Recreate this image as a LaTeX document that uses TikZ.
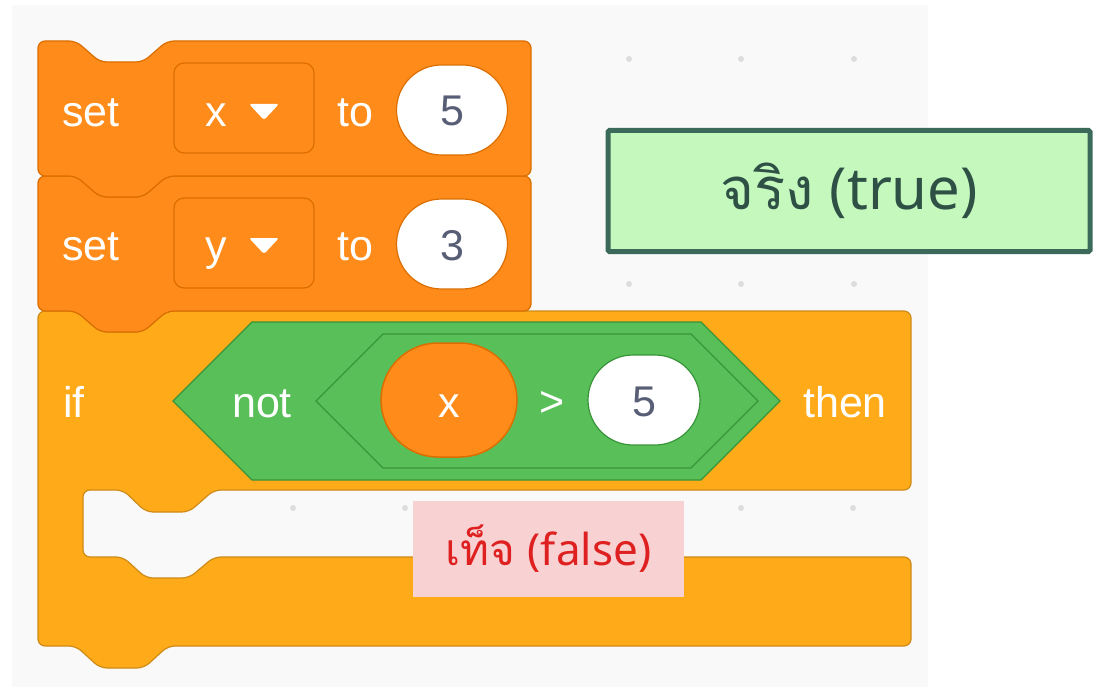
\documentclass[tikz,border=0pt]{standalone}
\usepackage{fontspec}
\setmainfont{Liberation Sans}
\newfontfamily\thaifont[Script=Thai]{Loma}
\newfontfamily\latfont{Noto Sans}
\usetikzlibrary{shapes.misc}
\definecolor{bggray}{HTML}{F9F9F9}
\definecolor{dotgray}{HTML}{DDDDDD}
\definecolor{varorange}{HTML}{FF8C1A}
\definecolor{varline}{HTML}{DB6E00}
\definecolor{ctrlyellow}{HTML}{FFAB19}
\definecolor{ctrlline}{HTML}{CF8B17}
\definecolor{opgreen}{HTML}{59C059}
\definecolor{opline}{HTML}{389438}
\definecolor{numgray}{HTML}{575E75}
\definecolor{truefill}{HTML}{C4F8BD}
\definecolor{trueline}{HTML}{3C6A5A}
\definecolor{truetext}{HTML}{2E5045}
\definecolor{falsefill}{HTML}{F8D2D2}
\definecolor{falsetext}{HTML}{DF2020}
\begin{document}
\begin{tikzpicture}[x=1pt,y=-1pt,
  varblock/.style={fill=varorange, draw=varline, line width=1.2pt, rounded corners=7pt},
  ctrlblock/.style={fill=ctrlyellow, draw=ctrlline, line width=1.2pt, rounded corners=7pt},
  boolhex/.style={fill=opgreen, draw=opline, line width=1.2pt},
  wtxt/.style={text=white, font=\fontsize{43}{50}\selectfont, anchor=base, inner sep=0pt},
  ntxt/.style={text=numgray, font=\fontsize{43}{50}\selectfont, anchor=base, inner sep=0pt},
  dropbox/.style={fill=varorange, draw=varline, line width=1.2pt, rounded corners=10pt, minimum width=140pt, minimum height=90pt, inner sep=0pt},
  numoval/.style={rounded rectangle, fill=white, draw=varline, line width=1.2pt, minimum width=111pt, minimum height=90pt, inner sep=0pt},
  gridpt/.style={fill=dotgray},
  truebox/.style={fill=truefill, draw=trueline, line width=5pt, rounded corners=1.5pt, minimum width=482pt, minimum height=121pt, text=truetext, font=\fontsize{58}{64}\selectfont},
  falsebox/.style={fill=falsefill, minimum width=271pt, minimum height=96pt, text=falsetext, font=\fontsize{44}{50}\selectfont, inner sep=0pt}
]
\useasboundingbox (0,0) rectangle (1094,687);
\fill[white] (0,0) rectangle (1094,687);
\fill[bggray] (12,5) rectangle (928,687);
% grid dots
\foreach \px/\py in {629/59,741/59,854/59,629/284,741/284,854/284,293/508,405/508,741/508,853/508}
  \fill[gridpt] (\px,\py) circle (3pt);

% if block
\draw[ctrlblock] (38,400) -- (38,311) -- (76,311) -- (100,332) -- (143,332) -- (167,311)
  -- (911,311) -- (911,490) -- (214,490) -- (189,512) -- (146,512) -- (123,490) -- (83,490)
  -- (83,557) -- (123,557) -- (146,578) -- (189,578) -- (214,557) -- (911,557) -- (911,646)
  -- (168,646) -- (144,668) -- (100,668) -- (76,646) -- (38,646) -- cycle;
% set y block
\draw[varblock] (38,240) -- (38,176) -- (76,176) -- (100,197) -- (143,197) -- (167,176)
  -- (531,176) -- (531,311) -- (167,311) -- (143,332) -- (100,332) -- (76,311) -- (38,311) -- cycle;
% set x block
\draw[varblock] (38,100) -- (38,41) -- (76,41) -- (100,62) -- (143,62) -- (167,41)
  -- (531,41) -- (531,176) -- (167,176) -- (143,197) -- (100,197) -- (76,176) -- (38,176) -- cycle;

% set x to 5
\node[wtxt] (set1) at (91,127) {set};
\node[dropbox] (dd1) at (244,108) {};
\node[wtxt] (var1) at (216,127) {x};
\fill[white, rounded corners=2.5pt] (249,104) -- (279,104) -- (264,120) -- cycle;
\node[wtxt] (to1) at (355,127) {to};
\node[numoval] (ov1) at (452,110) {};
\node[ntxt] (n1) at (452,126) {5};

% set y to 3
\node[wtxt] (set2) at (91,260) {set};
\node[dropbox] (dd2) at (244,243) {};
\node[wtxt] (var2) at (216,260) {y};
\fill[white, rounded corners=2.5pt] (249,238) -- (279,238) -- (264,254) -- cycle;
\node[wtxt] (to2) at (355,260) {to};
\node[numoval] (ov2) at (452,244) {};
\node[ntxt] (n2) at (452,260) {3};

% if not (x > 5) then
\node[wtxt] (iftxt) at (74,417) {if};
\draw[boolhex] (173,401) -- (252,322) -- (701,322) -- (780,401) -- (701,480) -- (252,480) -- cycle;
\draw[boolhex] (316,401) -- (383,334) -- (691,334) -- (758,401) -- (691,468) -- (383,468) -- cycle;
\node[wtxt] (nottxt) at (262,417) {not};
\node[rounded rectangle, fill=varorange, draw=varline, line width=1.5pt, minimum width=136pt, minimum height=114pt, inner sep=0pt] (xov) at (449,400) {};
\node[wtxt] (xtxt) at (449,417) {x};
\node[wtxt] (gt) at (552,416) {>};
\node[numoval, draw=opline, minimum width=112pt, minimum height=90pt] (ov3) at (644,400) {};
\node[ntxt] (n3) at (644,416) {5};
\node[wtxt] (thentxt) at (845,417) {then};

% labels
\node[truebox] (truelbl) at (849,191) {{\thaifont จริง} {\latfont (true)}};
\node[falsebox] (falselbl) at (548.5,549) {{\thaifont เท็จ} {\latfont (false)}};
\end{tikzpicture}
\end{document}
